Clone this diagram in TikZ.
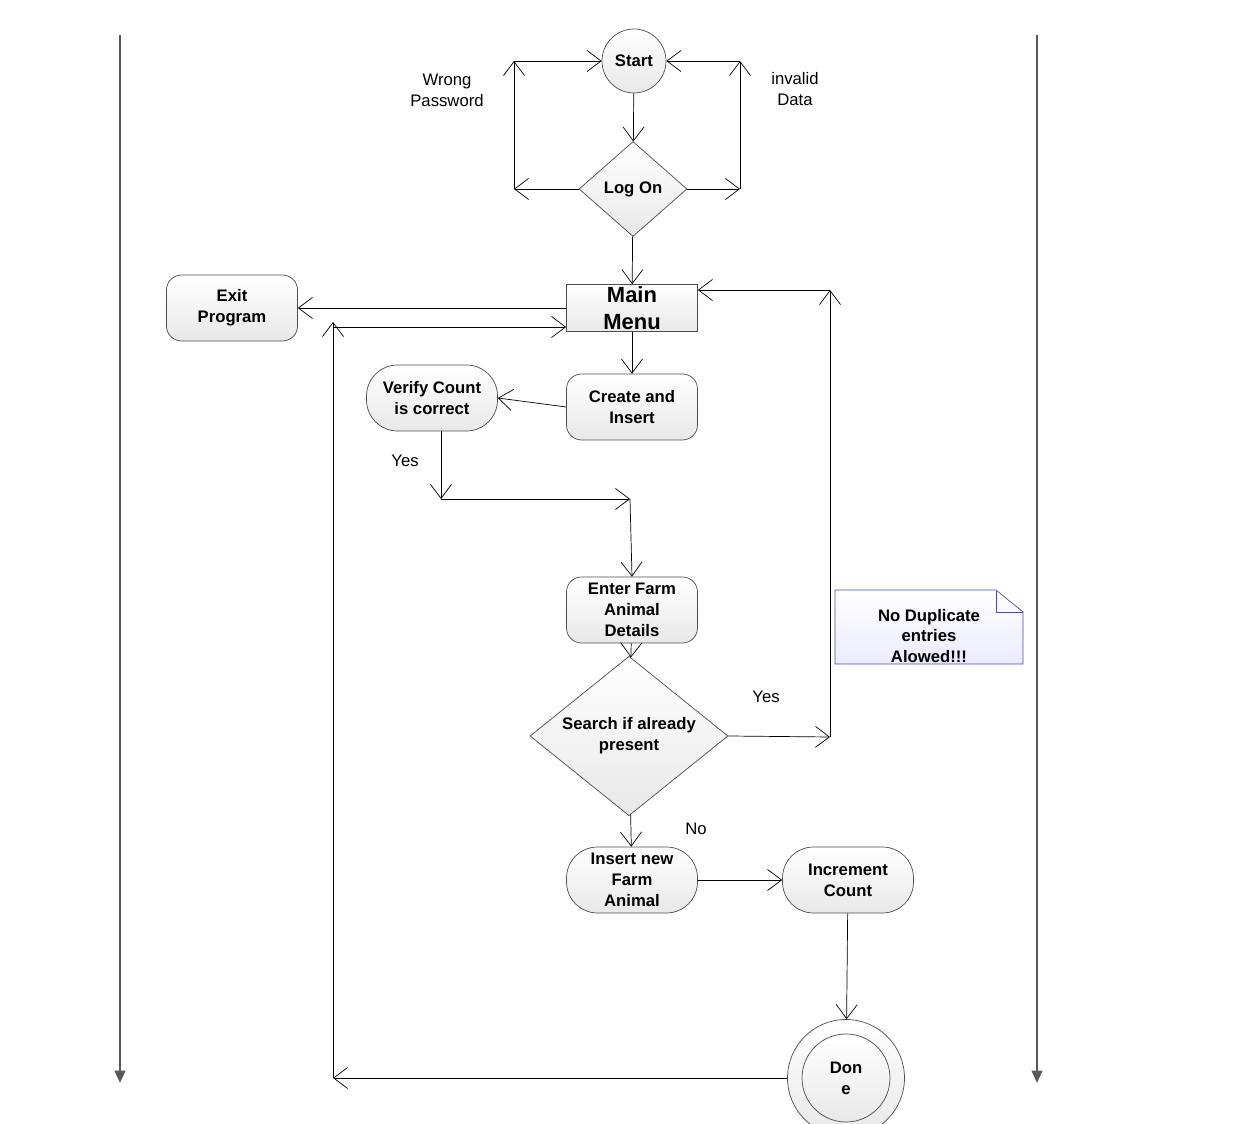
\documentclass[tikz,border=0pt]{standalone}
\usepackage{fontspec}
\setmainfont{Liberation Sans}
\usetikzlibrary{arrows.meta,shapes.geometric,shapes.misc}

\tikzset{
  flow/.style={-{Straight Barb[length=8pt,width=12pt]}, thin},
  lane/.style={-{Triangle[length=7pt,width=6pt]}, gray!70!black, line width=1.2pt},
  act/.style={draw=gray!60!black, top color=white, bottom color=gray!18, rounded corners=0.3cm,
    minimum width=2.62cm, minimum height=1.32cm, align=center, inner sep=1pt,
    font=\fontsize{9.5}{12}\selectfont\bfseries},
  pill/.style={act, rounded corners=0.62cm},
  choice/.style={diamond, draw=gray!60!black, top color=white, bottom color=gray!18, aspect=1.15,
    align=center, inner sep=1pt, font=\fontsize{9.5}{12}\selectfont\bfseries},
  lbl/.style={align=center, font=\fontsize{9.5}{12}\selectfont},
}

\begin{document}
\begin{tikzpicture}[x=0.02cm,y=-0.02cm]
\useasboundingbox (0,0) rectangle (1255,1124);
% swim lanes
\draw[lane] (120,35) -- (120,1083);
\draw[lane] (1037,35) -- (1037,1083);

% nodes
\node[circle, draw=gray!60!black, top color=white, bottom color=gray!18, minimum size=1.28cm, inner sep=0pt,
  font=\fontsize{9.5}{12}\selectfont\bfseries] (start) at (634,61) {Start};
\node[choice, minimum width=2.16cm, minimum height=1.9cm] (logon) at (633,189) {Log On};
\node[draw=gray!60!black, top color=white, bottom color=gray!18, minimum width=2.62cm, minimum height=0.94cm,
  inner sep=0pt, align=center, font=\fontsize{12.5}{15.5}\selectfont\bfseries] (menu) at (632,308) {Main\\Menu};
\node[act] (exit) at (232,308) {Exit\\Program};
\node[act] (create) at (632,407) {Create and\\Insert};
\node[pill] (verify) at (432,398) {Verify Count\\is correct};
\node[act] (enter) at (632,610) {Enter Farm\\Animal\\Details};
\node[choice, minimum width=3.96cm, minimum height=2.54cm] (search) at (629,736) {Search if already\\present};
\node[pill] (insert) at (632,880) {Insert new\\Farm\\Animal};
\node[pill] (incr) at (848,880) {Increment\\Count};
\node[circle, draw=gray!60!black, top color=white, bottom color=gray!18, minimum size=2.34cm] (doneo) at (846,1078) {};
\node[circle, draw=gray!60!black, top color=white, bottom color=gray!18, minimum size=1.76cm, align=center,
  font=\fontsize{9.5}{12}\selectfont\bfseries] (done) at (846,1078) {Don\\e};

% note
\draw[draw=blue!40!gray, top color=white, bottom color=blue!8] (835,590) -- (996,590) -- (1023,612) -- (1023,664) -- (835,664) -- cycle;
\draw[draw=blue!40!gray] (996,590) -- (996,612) -- (1023,612);
\node[lbl, font=\fontsize{9.5}{11.5}\selectfont\bfseries] (note) at (929,636) {No Duplicate\\entries\\Alowed!!!};

% labels
\node[lbl] (wrong) at (447,90) {Wrong\\Password};
\node[lbl] (invalid) at (795,89) {invalid\\Data};
\node[lbl] (yes1) at (405,461) {Yes};
\node[lbl] (yes2) at (766,697) {Yes};
\node[lbl] (no) at (696,829) {No};

% corners
\coordinate (wl) at (514,189);
\coordinate (wt) at (514,61);
\coordinate (il) at (740,189);
\coordinate (it) at (740,61);
\coordinate (vb) at (441,499);
\coordinate (vr) at (630,499);
\coordinate (sr) at (830,737);
\coordinate (st) at (830,290);
\coordinate (db) at (333,1078);
\coordinate (dt) at (333,322);

% connectors
\draw[flow] (start) -- (logon);
\draw[flow] (logon.west) -- (wl);
\draw[flow] (wl) -- (wt);
\draw[flow] (wt) -- (start.west);
\draw[flow] (logon.east) -- (il);
\draw[flow] (il) -- (it);
\draw[flow] (it) -- (start.east);
\draw[flow] (logon) -- (menu);
\draw[flow] (menu.west |- 0,308) -- (exit.east);
\draw[flow] (menu) -- (create);
\draw[flow] (create.west) -- (verify.east);
\draw[flow] (verify.south -| vb) -- (vb);
\draw[flow] (vb) -- (vr);
\draw[flow] (vr) -- (enter.north);
\draw[flow] (enter) -- (search);
\draw[flow] (search.east) -- (sr);
\draw[flow] (sr) -- (st);
\draw[flow] (st) -- (menu.east |- st);
\draw[flow] (search) -- (insert);
\draw[flow] (insert) -- (incr);
\draw[flow] (incr) -- (doneo);
\draw[flow] (doneo.west) -- (db);
\draw[flow] (db) -- (dt);
\draw[flow] (dt |- 0,327) -- (menu.west |- 0,327);
\end{tikzpicture}
\end{document}
